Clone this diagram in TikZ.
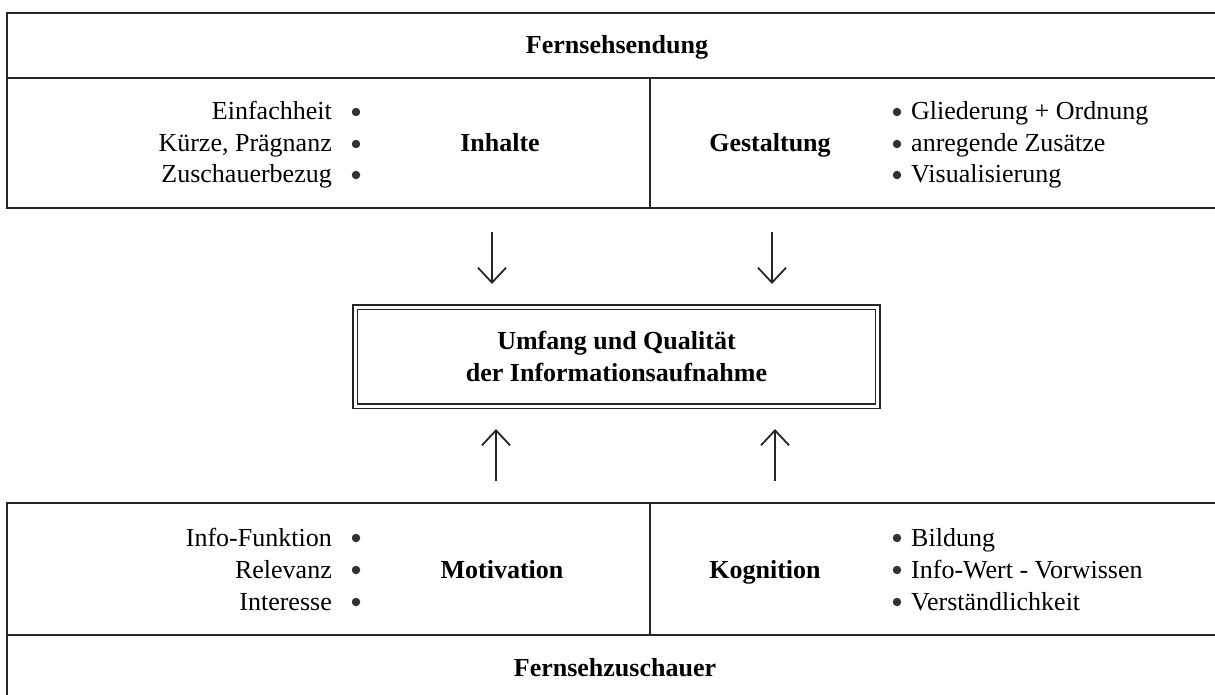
\documentclass[tikz,border=0pt]{standalone}
\usepackage{fontspec}
\setmainfont{Liberation Serif}
\usetikzlibrary{arrows.meta}
\begin{document}
\begin{tikzpicture}[x=1pt,y=-1pt,
  line/.style={line width=1.6pt, black!85},
  title/.style={font=\fontsize{26}{31.5}\selectfont\bfseries, inner sep=0pt},
  item/.style={font=\fontsize{26}{31.5}\selectfont, inner sep=0pt},
  bul/.style={circle, fill=black!80, inner sep=0pt, minimum size=8.5pt},
  arr/.style={line width=1.8pt, black!85, -{Straight Barb[length=15pt,width=28pt,line width=1.8pt]}}]
\useasboundingbox (0,0) rectangle (1215,695);
\clip (0,0) rectangle (1215,695);
% top box
\draw[line] (1230,13) -- (7,13) -- (7,208) -- (1230,208);
\draw[line] (7,78) -- (1230,78);
\draw[line] (650,78) -- (650,208);
\node[title, anchor=base] (fs) at (617,54) {Fernsehsendung};
\node[item, anchor=base east] (i1) at (332,120) {Einfachheit};
\node[item, anchor=base east] (i2) at (332,152) {Kürze, Prägnanz};
\node[item, anchor=base east] (i3) at (332,183) {Zuschauerbezug};
\node[bul] (ib1) at (356,112) {};
\node[bul] (ib2) at (356,144) {};
\node[bul] (ib3) at (356,175) {};
\node[title, anchor=base] (inh) at (500,152) {Inhalte};
\node[title, anchor=base] (ges) at (770,152) {Gestaltung};
\node[bul] (gb1) at (897,112) {};
\node[bul] (gb2) at (897,144) {};
\node[bul] (gb3) at (897,175) {};
\node[item, anchor=base west] (g1) at (911,120) {Gliederung + Ordnung};
\node[item, anchor=base west] (g2) at (911,152) {anregende Zusätze};
\node[item, anchor=base west] (g3) at (911,183) {Visualisierung};
% center box
\node[draw, black!85, double, double distance=3pt, line width=1.5pt,
      minimum width=522.5pt, minimum height=99pt, align=center, title,
      text=black] (mid) at (616.5,356.5) {Umfang und Qualität\\der Informationsaufnahme};
% arrows
\coordinate (d1s) at (492,232); \coordinate (d1e) at (492,284);
\coordinate (d2s) at (772,232); \coordinate (d2e) at (772,284);
\coordinate (u1s) at (496,481); \coordinate (u1e) at (496,429);
\coordinate (u2s) at (775,481); \coordinate (u2e) at (775,429);
\draw[arr] (d1s) -- (d1e);
\draw[arr] (d2s) -- (d2e);
\draw[arr] (u1s) -- (u1e);
\draw[arr] (u2s) -- (u2e);
% bottom box
\draw[line] (1230,503) -- (7,503) -- (7,700);
\draw[line] (7,635) -- (1230,635);
\draw[line] (650,503) -- (650,635);
\node[item, anchor=base east] (m1) at (332,546) {Info-Funktion};
\node[item, anchor=base east] (m2) at (332,578) {Relevanz};
\node[item, anchor=base east] (m3) at (332,610) {Interesse};
\node[bul] (mb1) at (356,538) {};
\node[bul] (mb2) at (356,570) {};
\node[bul] (mb3) at (356,602) {};
\node[title, anchor=base] (mot) at (502,578) {Motivation};
\node[title, anchor=base] (kog) at (765,578) {Kognition};
\node[bul] (kb1) at (897,538) {};
\node[bul] (kb2) at (897,570) {};
\node[bul] (kb3) at (897,602) {};
\node[item, anchor=base west] (k1) at (911,546) {Bildung};
\node[item, anchor=base west] (k2) at (911,578) {Info-Wert - Vorwissen};
\node[item, anchor=base west] (k3) at (911,610) {Verständlichkeit};
\node[title, anchor=base] (fz) at (615,676) {Fernsehzuschauer};
\end{tikzpicture}
\end{document}
